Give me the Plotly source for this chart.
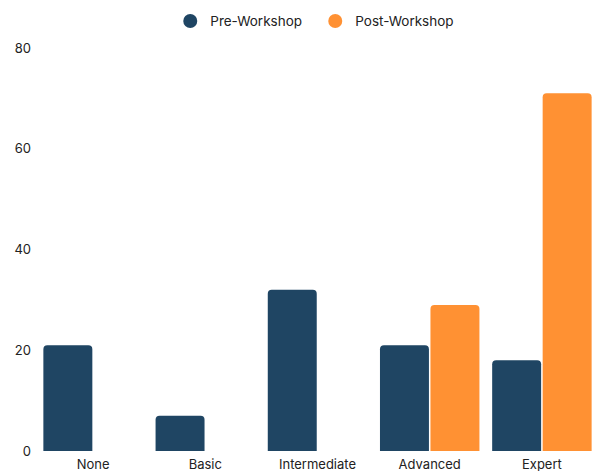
import plotly.graph_objects as go

levels = ["None", "Basic", "Intermediate", "Advanced", "Expert"]
pre_workshop = [21, 7, 32, 21, 18]
post_workshop = [0, 0, 0, 29, 71]
y_ticks = [0, 20, 40, 60, 80]

navy = "#1F4563"
orange = "#FF9133"
font_family = "Inter, 'Open Sans', sans-serif"

fig = go.Figure()
fig.add_trace(go.Bar(x=levels, y=pre_workshop, name="Pre-Workshop",
                     marker=dict(color=navy, line=dict(width=0)),
                     showlegend=False))
fig.add_trace(go.Bar(x=levels, y=post_workshop, name="Post-Workshop",
                     marker=dict(color=orange, line=dict(width=0)),
                     showlegend=False))

# circular legend markers
for name, col in [("Pre-Workshop", navy), ("Post-Workshop", orange)]:
    fig.add_trace(go.Scatter(x=[None], y=[None], mode="markers", name=name,
                             marker=dict(color=col, size=14, symbol="circle")))

fig.update_layout(
    width=598, height=471,
    margin=dict(l=37, r=0, t=48, b=20),
    paper_bgcolor="white", plot_bgcolor="white",
    font=dict(family=font_family, size=13, color="#222222"),
    barmode="group", bargap=0.1, bargroupgap=0.03,
    barcornerradius=4,
    legend=dict(orientation="h", x=0.496, xanchor="center",
                yref="container", y=0.955, yanchor="middle",
                font=dict(size=13.5, color="#222222"), itemwidth=30,
                entrywidth=100),
    xaxis=dict(showgrid=False, showline=False, zeroline=False,
               ticks="", tickfont=dict(size=13), ticklabelstandoff=4),
    yaxis=dict(range=[0, 80], tickvals=y_ticks, showgrid=False,
               showline=False, zeroline=False, ticks="",
               tickfont=dict(size=13), ticklabelstandoff=5),
)

fig.write_html("out.html")
